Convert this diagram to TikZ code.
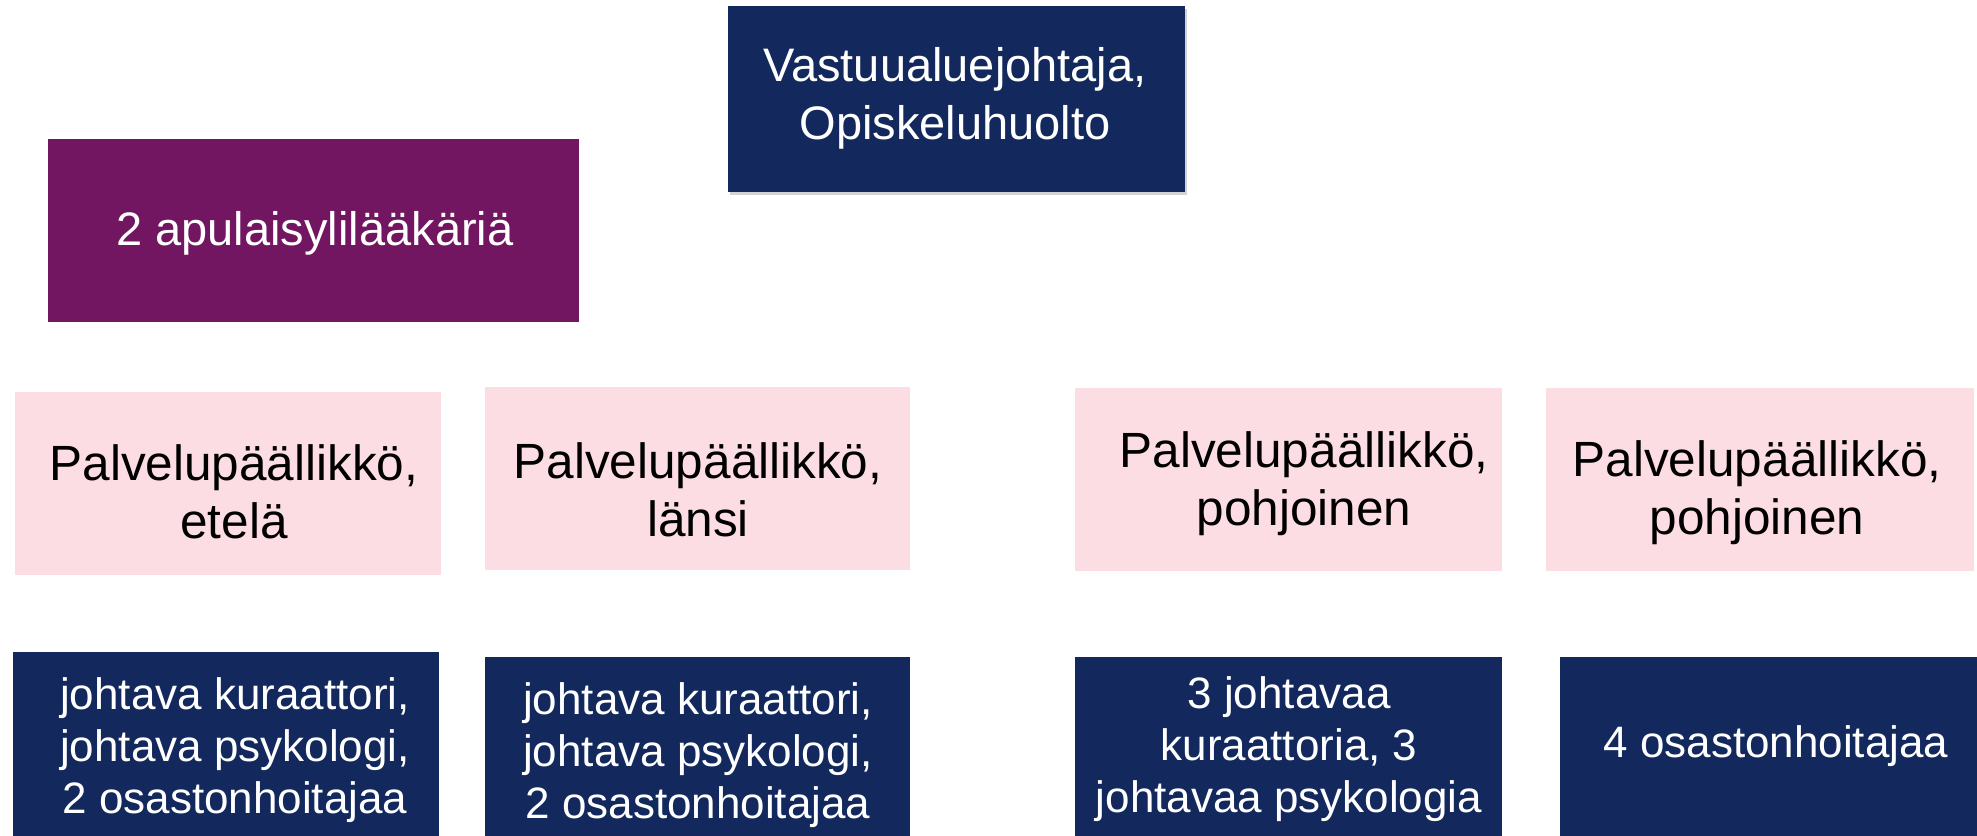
\documentclass[tikz,border=0pt]{standalone}
\usepackage{fontspec}
\setmainfont{Liberation Sans}
\usetikzlibrary{shadows}
\definecolor{navy}{RGB}{19,41,94}
\definecolor{plum}{RGB}{114,22,98}
\definecolor{rose}{RGB}{253,221,228}
\tikzset{
  box/.style={rectangle, inner sep=0pt, outer sep=0pt, anchor=north west},
  navybox/.style={box, fill=navy},
  plumbox/.style={box, fill=plum},
  rosebox/.style={box, fill=rose},
  wtxt/.style={text=white, align=center, inner sep=0pt},
  btxt/.style={text=black, align=center, inner sep=0pt},
}
\begin{document}
\begin{tikzpicture}[x=1pt,y=-1pt]
\useasboundingbox (0,0) rectangle (1977,835);
% top
\node[navybox, minimum width=457pt, minimum height=186pt,
  drop shadow={shadow xshift=2pt, shadow yshift=-3pt, opacity=0.35}] (top) at (728,6) {};
\node[wtxt, font=\fontsize{47}{58}\selectfont] (toptxt) at (955,98) {Vastuualuejohtaja,\\Opiskeluhuolto};
% purple
\node[plumbox, minimum width=531pt, minimum height=183pt] (apu) at (48,139) {};
\node[wtxt, font=\fontsize{47}{56}\selectfont] (aputxt) at (315,233) {2 apulaisylilääkäriä};
% pink row
\node[rosebox, minimum width=426pt, minimum height=183pt] (p1) at (15,392) {};
\node[rosebox, minimum width=425pt, minimum height=183pt] (p2) at (485,387) {};
\node[rosebox, minimum width=427pt, minimum height=183pt] (p3) at (1075,388) {};
\node[rosebox, minimum width=428pt, minimum height=183pt] (p4) at (1546,388) {};
\node[btxt, font=\fontsize{49.5}{58}\selectfont] (p1t) at (234,492) {Palvelupäällikkö,\\etelä};
\node[btxt, font=\fontsize{49.5}{58}\selectfont] (p2t) at (698,490) {Palvelupäällikkö,\\länsi};
\node[btxt, font=\fontsize{49.5}{58}\selectfont] (p3t) at (1304,484) {Palvelupäällikkö,\\pohjoinen};
\node[btxt, font=\fontsize{49.5}{58}\selectfont] (p4t) at (1757,493) {Palvelupäällikkö,\\pohjoinen};
% navy row
\node[navybox, minimum width=426pt, minimum height=190pt] (n1) at (13,652) {};
\node[navybox, minimum width=425pt, minimum height=185pt] (n2) at (485,657) {};
\node[navybox, minimum width=427pt, minimum height=185pt] (n3) at (1075,657) {};
\node[navybox, minimum width=420pt, minimum height=185pt] (n4) at (1560,657) {};
\node[wtxt, font=\fontsize{44}{52}\selectfont] (n1t) at (235,750) {johtava kuraattori,\\johtava psykologi,\\2 osastonhoitajaa};
\node[wtxt, font=\fontsize{44}{52}\selectfont] (n2t) at (698,755) {johtava kuraattori,\\johtava psykologi,\\2 osastonhoitajaa};
\node[wtxt, font=\fontsize{44}{52}\selectfont] (n3t) at (1289,749) {3 johtavaa\\kuraattoria, 3\\johtavaa psykologia};
\node[wtxt, font=\fontsize{44}{52}\selectfont] (n4t) at (1776,746) {4 osastonhoitajaa};
\end{tikzpicture}
\end{document}
